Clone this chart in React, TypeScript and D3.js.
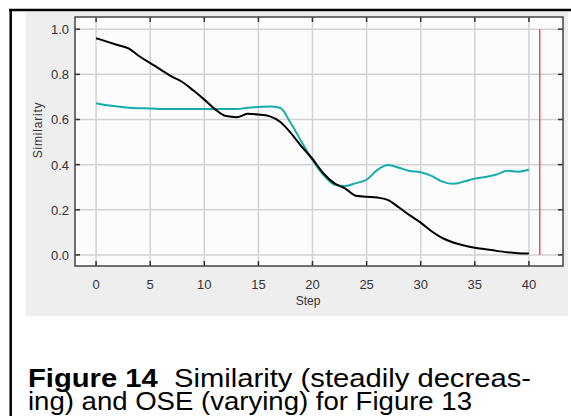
import React, { useEffect, useRef } from 'react';
import * as d3 from 'd3';

// values, one per step 0..40
const steps = d3.range(0, 41);
const similarity = [
  0.96, 0.945, 0.93, 0.915, 0.88, 0.85, 0.82, 0.79, 0.765, 0.728, 0.688,
  0.645, 0.615, 0.61, 0.625, 0.622, 0.615, 0.59, 0.54, 0.48, 0.425,
  0.362, 0.318, 0.295, 0.262, 0.258, 0.254, 0.243, 0.21, 0.175, 0.143,
  0.105, 0.075, 0.055, 0.042, 0.032, 0.025, 0.018, 0.012, 0.008, 0.006,
];
const ose = [
  0.672, 0.663, 0.658, 0.652, 0.65, 0.649, 0.647, 0.646, 0.646, 0.646, 0.646,
  0.646, 0.646, 0.646, 0.652, 0.655, 0.658, 0.652, 0.583, 0.5, 0.42,
  0.355, 0.312, 0.305, 0.318, 0.333, 0.377, 0.398, 0.386, 0.372, 0.366,
  0.35, 0.325, 0.315, 0.325, 0.338, 0.345, 0.356, 0.373, 0.369, 0.377,
];
const markerStep = 41;
const xTicks = [0, 5, 10, 15, 20, 25, 30, 35, 40];
const yTicks = [0, 0.2, 0.4, 0.6, 0.8, 1.0];

const W = 571;
const H = 416;
const plot = { left: 75, right: 563, top: 17, bottom: 266 };
const font = '"Liberation Sans", Arial, sans-serif';

export default function App() {
  const ref = useRef<SVGSVGElement>(null);

  useEffect(() => {
    const svg = d3.select(ref.current);
    svg.selectAll('*').remove();

    const x = d3.scaleLinear().domain([-1.95, 43.15]).range([plot.left, plot.right]);
    const y = d3.scaleLinear().domain([-0.049, 1.054]).range([plot.bottom, plot.top]);

    // page frame (top and left rules only)
    svg.append('rect').attr('x', 0).attr('y', 0).attr('width', W).attr('height', H).attr('fill', '#fff');
    svg.append('rect').attr('x', 26).attr('y', 12).attr('width', 542).attr('height', 304).attr('fill', '#eeeeee');
    svg.append('line').attr('x1', 9).attr('x2', W).attr('y1', 10).attr('y2', 10)
      .attr('stroke', '#000').attr('stroke-width', 2.5);
    svg.append('line').attr('x1', 10.7).attr('x2', 10.7).attr('y1', 9).attr('y2', H)
      .attr('stroke', '#000').attr('stroke-width', 2.5);

    // plot background
    svg.append('rect')
      .attr('x', plot.left).attr('y', plot.top)
      .attr('width', plot.right - plot.left).attr('height', plot.bottom - plot.top)
      .attr('fill', '#fcfcfc');

    const g = svg.append('g');

    // grid
    g.selectAll('.gx').data(xTicks).enter().append('line')
      .attr('x1', d => x(d)).attr('x2', d => x(d))
      .attr('y1', plot.top).attr('y2', plot.bottom)
      .attr('stroke', '#d2d2d2').attr('stroke-width', 1.5);
    g.selectAll('.gy').data(yTicks).enter().append('line')
      .attr('x1', plot.left).attr('x2', plot.right)
      .attr('y1', d => y(d)).attr('y2', d => y(d))
      .attr('stroke', '#d2d2d2').attr('stroke-width', 1.5);

    // inward tick marks on all four sides
    const tk = 5;
    g.selectAll('.tb').data(xTicks).enter().append('line')
      .attr('x1', d => x(d)).attr('x2', d => x(d))
      .attr('y1', plot.bottom).attr('y2', plot.bottom - tk)
      .attr('stroke', '#333').attr('stroke-width', 1.5);
    g.selectAll('.tt').data(xTicks).enter().append('line')
      .attr('x1', d => x(d)).attr('x2', d => x(d))
      .attr('y1', plot.top).attr('y2', plot.top + tk)
      .attr('stroke', '#333').attr('stroke-width', 1.5);
    g.selectAll('.tl').data(yTicks).enter().append('line')
      .attr('x1', plot.left).attr('x2', plot.left + tk)
      .attr('y1', d => y(d)).attr('y2', d => y(d))
      .attr('stroke', '#333').attr('stroke-width', 1.5);
    g.selectAll('.tr').data(yTicks).enter().append('line')
      .attr('x1', plot.right).attr('x2', plot.right - tk)
      .attr('y1', d => y(d)).attr('y2', d => y(d))
      .attr('stroke', '#333').attr('stroke-width', 1.5);

    // border
    g.append('rect')
      .attr('x', plot.left).attr('y', plot.top)
      .attr('width', plot.right - plot.left).attr('height', plot.bottom - plot.top)
      .attr('fill', 'none').attr('stroke', '#444').attr('stroke-width', 1.5);

    // red step marker
    g.append('line')
      .attr('x1', x(markerStep)).attr('x2', x(markerStep))
      .attr('y1', y(1)).attr('y2', y(0))
      .attr('stroke', '#f05050').attr('stroke-width', 1.5);

    const line = d3.line<number>()
      .x((_, i) => x(steps[i]))
      .y(d => y(d))
      .curve(d3.curveMonotoneX);

    g.append('path').datum(ose).attr('d', line)
      .attr('fill', 'none').attr('stroke', '#17abab').attr('stroke-width', 2);
    g.append('path').datum(similarity).attr('d', line)
      .attr('fill', 'none').attr('stroke', '#000').attr('stroke-width', 2);

    // tick labels
    g.selectAll('.lx').data(xTicks).enter().append('text')
      .attr('x', d => x(d)).attr('y', 289)
      .attr('text-anchor', 'middle')
      .style('font', `13px ${font}`).attr('fill', '#333')
      .text(d => d3.format('d')(d));
    g.selectAll('.ly').data(yTicks).enter().append('text')
      .attr('x', 69).attr('y', d => y(d) + 5)
      .attr('text-anchor', 'end')
      .style('font', `13px ${font}`).attr('fill', '#333')
      .text(d => d3.format('.1f')(d));

    // axis titles
    g.append('text')
      .attr('transform', 'translate(42,130) rotate(-90)')
      .attr('text-anchor', 'middle')
      .attr('letter-spacing', 0.8)
      .style('font', `12px ${font}`).attr('fill', '#333')
      .text('Similarity');
    g.append('text')
      .attr('x', 308).attr('y', 305)
      .attr('text-anchor', 'middle')
      .style('font', `12px ${font}`).attr('fill', '#333')
      .text('Step');

    // caption
    const cap = svg.append('text')
      .attr('x', 28).attr('y', 387)
      .attr('textLength', 503).attr('lengthAdjust', 'spacingAndGlyphs')
      .style('font', `25px ${font}`).attr('fill', '#000');
    cap.append('tspan').attr('font-weight', 'bold').text('Figure 14');
    cap.append('tspan').text('\u00a0\u00a0Similarity (steadily decreas-');
    svg.append('text')
      .attr('x', 28).attr('y', 410)
      .attr('textLength', 444).attr('lengthAdjust', 'spacingAndGlyphs')
      .style('font', `25px ${font}`).attr('fill', '#000')
      .text('ing) and OSE (varying) for Figure 13');
  }, []);

  return (
    <svg
      ref={ref}
      width={W}
      height={H}
      style={{ position: 'absolute', left: 0, top: 0 }}
    />
  );
}
